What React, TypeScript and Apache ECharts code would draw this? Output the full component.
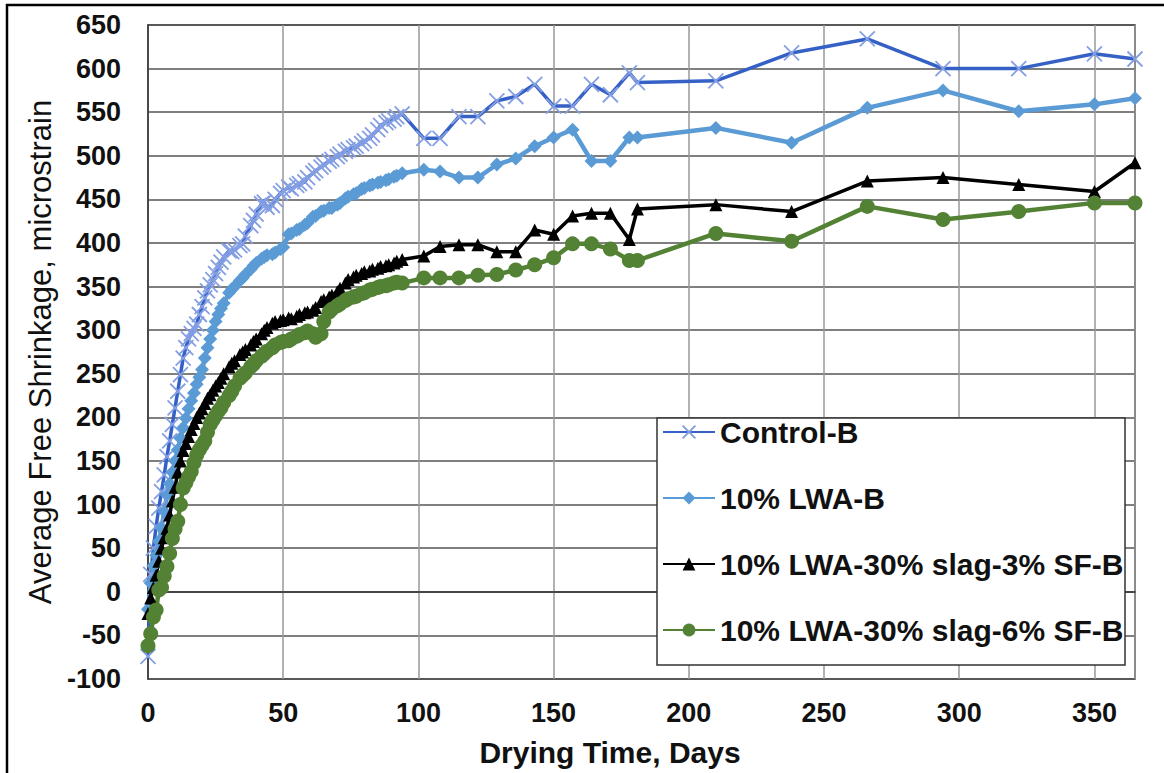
import React, { useEffect, useRef } from "react";
import * as echarts from "echarts";

// Drying time (days) of the readings
const earlyDays = [
  0, 1, 2, 3, 4, 5, 6, 7, 8, 9, 10, 11, 12, 13, 14, 15, 16, 17, 18, 19, 20, 21, 22, 23, 24, 25, 26, 27, 28,
  30, 31, 32, 34, 35, 36, 38, 39, 40, 42, 43, 44, 46, 47, 49, 50, 52, 53, 55, 56, 58, 59, 61, 62, 64, 65,
  67, 68, 70, 71, 73, 74, 76, 77, 79, 80, 82, 83, 85, 86, 88, 89, 91, 92, 94,
];
const lateDays = [102, 108, 115, 122, 129, 136, 143, 150, 157, 164, 171, 178, 181, 210, 238, 266, 294, 322, 350, 365];
const days = [...earlyDays, ...lateDays];

const seriesNames = [
  "Control-B",
  "10% LWA-B",
  "10% LWA-30% slag-3% SF-B",
  "10% LWA-30% slag-6% SF-B",
];

const controlB = [
  -74, 20, 50, 75, 96, 115, 134, 155, 173, 192, 211, 230, 249, 268, 280, 290, 296, 302, 307, 318, 327, 337, 345, 352, 358, 365, 372, 378, 384,
  391, 390, 392, 397, 399, 408, 420, 426, 433, 445, 447, 441, 443, 450, 457, 460, 464, 462, 466, 468, 470, 475, 480, 483, 487, 490,
  494, 496, 499, 502, 505, 507, 509, 511, 514, 517, 520, 524, 530, 535, 538, 540, 542, 545, 548,
  520, 520, 545, 545, 563, 568, 582, 557, 557, 582, 570, 595, 584, 586, 618, 634, 600, 600, 617, 611,
];
const lwaB = [
  -20, 10, 30, 42, 58, 73, 92, 111, 124, 137, 150, 163, 176, 188, 199, 210, 219, 228, 238, 246, 255, 268, 280, 290, 300, 310, 318, 325, 331,
  343, 347, 350, 357, 360, 364, 370, 374, 377, 382, 384, 386, 387, 389, 393, 395, 410, 411, 415, 416, 421, 423, 430, 431, 436, 437,
  440, 440, 444, 446, 451, 453, 456, 457, 462, 463, 466, 467, 469, 470, 472, 473, 476, 477, 480,
  484, 482, 475, 475, 490, 497, 511, 521, 530, 494, 494, 521, 521, 532, 515, 555, 575, 551, 559, 566,
];
const slag3SF = [
  -25, -7, 5, 19, 35, 50, 62, 73, 88, 104, 120, 137, 150, 162, 170, 178, 186, 193, 200, 205, 210, 216, 222, 226, 231, 236, 240, 245, 250,
  258, 262, 265, 272, 275, 278, 283, 287, 290, 296, 300, 303, 308, 310, 311, 312, 314, 313, 316, 318, 320, 321, 323, 326, 333, 335,
  338, 340, 344, 348, 354, 358, 361, 363, 365, 367, 368, 370, 371, 373, 374, 375, 377, 379, 381,
  385, 396, 398, 398, 390, 390, 415, 410, 431, 434, 434, 404, 439, 444, 436, 471, 475, 467, 459, 492,
];
const slag6SF = [
  -62, -48, -29, -21, 2, 5, 18, 29, 44, 61, 72, 81, 100, 119, 125, 132, 138, 148, 157, 163, 168, 173, 183, 192, 197, 202, 207, 211, 217,
  225, 230, 236, 245, 248, 251, 258, 261, 265, 270, 273, 276, 280, 283, 286, 287, 288, 290, 293, 295, 297, 299, 296, 292, 296, 310,
  321, 324, 328, 330, 334, 336, 338, 339, 342, 343, 346, 347, 349, 350, 351, 352, 354, 355, 354,
  360, 360, 360, 363, 364, 369, 375, 383, 399, 399, 393, 380, 380, 411, 402, 442, 427, 436, 446, 446,
];

const pairs = (vals: number[]) => days.map((d, i) => [d, vals[i]]);

const FONT = "'Liberation Sans', Arial, sans-serif";

export default function App() {
  const ref = useRef<HTMLDivElement>(null);
  useEffect(() => {
    const chart = echarts.init(ref.current as HTMLDivElement, null, { renderer: "svg" });
    chart.setOption({
      animation: false,
      backgroundColor: "#fff",
      textStyle: { fontFamily: FONT },
      grid: { left: 148, right: 29, top: 25, bottom: 94, show: true, borderColor: "#333", borderWidth: 1.5 },
      xAxis: {
        type: "value",
        min: 0,
        max: 365,
        interval: 50,
        name: "Drying Time, Days",
        nameLocation: "middle",
        nameGap: 58,
        nameTextStyle: { fontSize: 30, fontWeight: "bold", color: "#111", fontFamily: FONT, padding: [0, 63, 0, 0] },
        axisLine: { show: true, lineStyle: { color: "#333", width: 1.5 } },
        axisTick: { show: false },
        axisLabel: { fontSize: 27, fontWeight: "bold", color: "#111", margin: 20, showMaxLabel: false, fontFamily: FONT },
        splitLine: { show: true, lineStyle: { color: "#999", width: 1.5 } },
      },
      yAxis: {
        type: "value",
        min: -100,
        max: 650,
        interval: 50,
        name: "Average Free Shrinkage, microstrain",
        nameLocation: "middle",
        nameGap: 92,
        nameTextStyle: { fontSize: 31, color: "#111", fontFamily: FONT },
        axisLine: { show: true, lineStyle: { color: "#333", width: 1.5 } },
        axisTick: { show: false },
        axisLabel: { fontSize: 27, fontWeight: "bold", color: "#111", margin: 27, fontFamily: FONT },
        splitLine: { show: true, lineStyle: { color: "#555", width: 1.5 } },
      },
      legend: {
        orient: "vertical",
        left: 662,
        top: 417,
        padding: 0,
        itemWidth: 52,
        itemHeight: 16,
        itemGap: 36,
        z: 5,
        data: seriesNames,
        textStyle: { fontSize: 30, fontWeight: "bold", color: "#111", fontFamily: FONT },
      },
      graphic: [
        {
          type: "rect",
          z: 3,
          shape: { x: 657, y: 418, width: 468, height: 247 },
          style: { fill: "#fff", stroke: "#333", lineWidth: 1.5 },
        },
        { type: "line", z: 10, shape: { x1: 6, y1: 5, x2: 1164, y2: 5 }, style: { stroke: "#000", lineWidth: 2.5 } },
        { type: "line", z: 10, shape: { x1: 7, y1: 4, x2: 7, y2: 773 }, style: { stroke: "#000", lineWidth: 2.5 } },
      ],
      series: [
        {
          name: seriesNames[0],
          type: "line",
          data: pairs(controlB),
          showAllSymbol: true,
          symbol: "path://M0,0L10,10M10,0L0,10",
          symbolSize: 15,
          itemStyle: { color: "#3560C6", borderColor: "#849FE3", borderWidth: 1.8 },
          lineStyle: { color: "#3560C6", width: 3.5 },
        },
        {
          name: seriesNames[1],
          type: "line",
          data: pairs(lwaB),
          showAllSymbol: true,
          symbol: "diamond",
          symbolSize: 14,
          itemStyle: { color: "#5B9BD5" },
          lineStyle: { color: "#5B9BD5", width: 4.5 },
        },
        {
          name: seriesNames[2],
          type: "line",
          data: pairs(slag3SF),
          showAllSymbol: true,
          symbol: "triangle",
          symbolSize: 13,
          itemStyle: { color: "#000" },
          lineStyle: { color: "#000", width: 3.5 },
        },
        {
          name: seriesNames[3],
          type: "line",
          data: pairs(slag6SF),
          showAllSymbol: true,
          symbol: "circle",
          symbolSize: 15,
          itemStyle: { color: "#548235" },
          lineStyle: { color: "#548235", width: 4.5 },
        },
      ],
    });
    return () => chart.dispose();
  }, []);
  return (
    <div
      ref={ref}
      style={{ position: "fixed", left: 0, top: 0, width: 1164, height: 773, background: "#fff" }}
    />
  );
}
